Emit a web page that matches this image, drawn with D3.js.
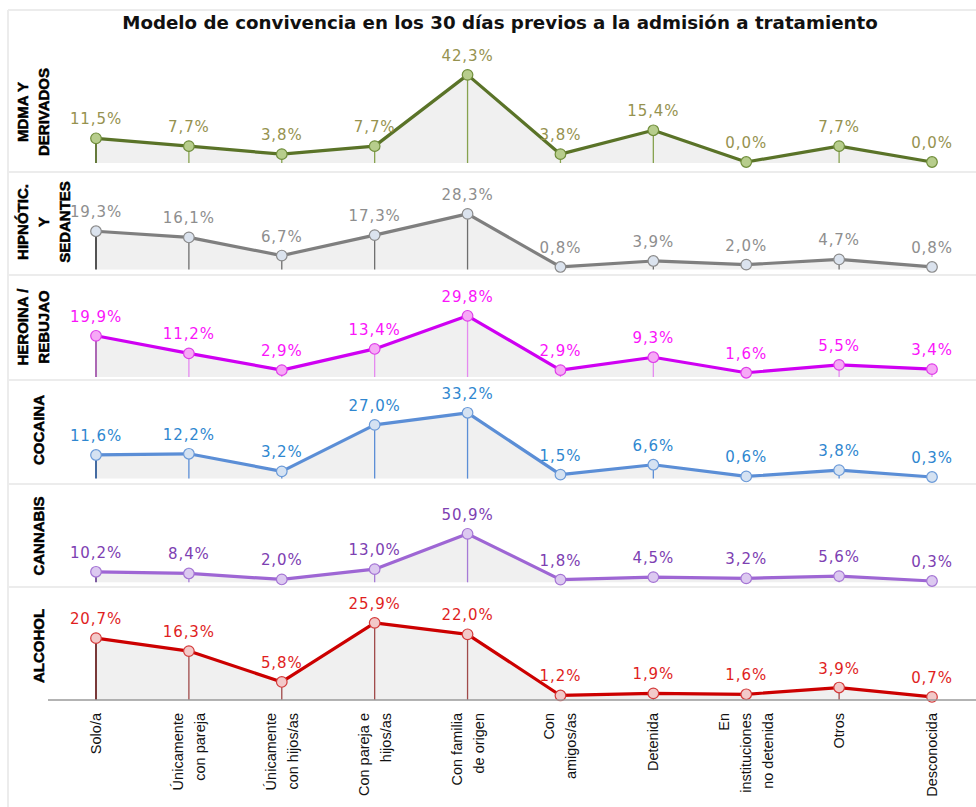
<!DOCTYPE html>
<html>
<head>
<meta charset="utf-8">
<script src="https://cdn.jsdelivr.net/npm/d3@7"></script>
<style>
html,body{margin:0;padding:0;background:#fff;}
svg{display:block;}
</style>
</head>
<body>
<svg id="chart" width="976" height="807"></svg>
<script>
// ---- DATA ----
const title = "Modelo de convivencia en los 30 días previos a la admisión a tratamiento";
const categories = ["Solo/a","Únicamente con pareja","Únicamente con hijos/as","Con pareja e hijos/as","Con familia de origen","Con amigos/as","Detenida","En instituciones no detenida","Otros","Desconocida"];
const categoryLines = [["Solo/a"],["Únicamente","con pareja"],["Únicamente","con hijos/as"],["Con pareja e","hijos/as"],["Con familia","de origen"],["Con","amigos/as"],["Detenida"],["En","instituciones","no detenida"],["Otros"],["Desconocida"]];
const seriesNames = [["MDMA Y","DERIVADOS"],["HIPNÓTIC.","Y","SEDANTES"],["HEROINA /","REBUJAO"],["COCAINA"],["CANNABIS"],["ALCOHOL"]];
const mdma     = [11.5, 7.7, 3.8, 7.7, 42.3, 3.8, 15.4, 0.0, 7.7, 0.0];
const hipnotic = [19.3, 16.1, 6.7, 17.3, 28.3, 0.8, 3.9, 2.0, 4.7, 0.8];
const heroina  = [19.9, 11.2, 2.9, 13.4, 29.8, 2.9, 9.3, 1.6, 5.5, 3.4];
const cocaina  = [11.6, 12.2, 3.2, 27.0, 33.2, 1.5, 6.6, 0.6, 3.8, 0.3];
const cannabis = [10.2, 8.4, 2.0, 13.0, 50.9, 1.8, 4.5, 3.2, 5.6, 0.3];
const alcohol  = [20.7, 16.3, 5.8, 25.9, 22.0, 1.2, 1.9, 1.6, 3.9, 0.7];
const seriesValues = [mdma, hipnotic, heroina, cocaina, cannabis, alcohol];
const axisMax = [50, 50, 50, 50, 100, 30];

// ---- STYLE / LAYOUT ----
const styles = [
  {line:"#5a7328", drop:"#86a24e", mFill:"#b7cd8c", mStroke:"#6f8d3a", label:"#96924f"},
  {line:"#7f7f7f", drop:"#6e6e6e", mFill:"#dbe3ee", mStroke:"#8a8a8a", label:"#8e8e8e"},
  {line:"#cf00f2", drop:"#e58af0", mFill:"#f6a9f6", mStroke:"#de3ee8", label:"#fa14fa"},
  {line:"#5b8ed6", drop:"#5b8ed6", mFill:"#d5e2f2", mStroke:"#6b9ad8", label:"#2f87d0"},
  {line:"#9e66d4", drop:"#a67ad6", mFill:"#dcc9f0", mStroke:"#a474d4", label:"#7d40b2"},
  {line:"#cc0000", drop:"#a04a4a", mFill:"#f2c9c9", mStroke:"#d33a3a", label:"#e01e1e"}
];
const panels = [
  {top:10,  bottom:172, plotTop:59,    zero:162,   labelY:112},
  {top:172, bottom:275, plotTop:172,   zero:268.5, labelY:222},
  {top:275, bottom:380, plotTop:275,   zero:376,   labelY:327},
  {top:380, bottom:484, plotTop:380,   zero:477.6, labelY:430},
  {top:484, bottom:587, plotTop:488,   zero:581.3, labelY:536},
  {top:587, bottom:807, plotTop:610.8, zero:699,   labelY:646}
];

const svg = d3.select("#chart");
const W = 976;
const x = d3.scalePoint().domain(categories).range([96, 932]);

// panel borders
panels.forEach((p,i)=>{
  svg.append("line").attr("x1",8).attr("x2",W).attr("y1",p.top).attr("y2",p.top)
    .attr("stroke","#ececec").attr("stroke-width",2);
});
svg.append("line").attr("x1",8).attr("x2",8).attr("y1",10).attr("y2",807)
  .attr("stroke","#ececec").attr("stroke-width",2);

// title
const t = svg.append("text").attr("x",500).attr("y",29).attr("text-anchor","middle")
  .attr("font-family","DejaVu Sans, Verdana, sans-serif").attr("font-weight","bold")
  .attr("font-size",15).attr("fill","#111").text(title);
const tw = t.node().getComputedTextLength();
t.attr("font-size", 15*756/tw);

seriesValues.forEach((vals,i)=>{
  const p = panels[i], s = styles[i];
  const y = d3.scaleLinear().domain([0, axisMax[i]]).range([p.zero, p.plotTop]);
  const g = svg.append("g");
  const pts = vals.map((v,j)=>({c:categories[j], v}));

  // area fill
  g.append("path").datum(pts)
    .attr("d", d3.area().x(d=>x(d.c)).y0(y(0)+1).y1(d=>y(d.v)))
    .attr("fill","#f0f0f0");

  // drop lines
  g.selectAll("line.drop").data(pts).join("line")
    .attr("x1",d=>x(d.c)).attr("x2",d=>x(d.c))
    .attr("y1",d=>y(d.v)).attr("y2",y(0)+1)
    .attr("stroke",(d,j)=> j===0 ? d3.color(s.drop).darker(0.8) : s.drop)
    .attr("stroke-width",(d,j)=> j===0 ? 2 : 1.3);

  // line
  g.append("path").datum(pts)
    .attr("d", d3.line().x(d=>x(d.c)).y(d=>y(d.v)))
    .attr("fill","none").attr("stroke",s.line).attr("stroke-width",3.2)
    .attr("stroke-linejoin","round");

  // markers
  g.selectAll("circle").data(pts).join("circle")
    .attr("cx",d=>x(d.c)).attr("cy",d=>y(d.v)).attr("r",5.3)
    .attr("fill",s.mFill).attr("stroke",s.mStroke).attr("stroke-width",1.2);

  // value labels
  g.selectAll("text.val").data(pts).join("text")
    .attr("x",d=>x(d.c)).attr("y",d=>y(d.v)-14)
    .attr("text-anchor","middle")
    .attr("font-family","DejaVu Sans, Verdana, sans-serif")
    .attr("font-size",15).attr("letter-spacing","0.9px")
    .attr("fill",s.label)
    .text(d=>d.v.toFixed(1).replace(".",",")+"%");

  // series label (rotated)
  const lines = seriesNames[i];
  lines.forEach((ln,k)=>{
    const cx = lines.length===1 ? 38 : 22 + k*21;
    svg.append("text")
      .attr("transform",`translate(${cx+5.5},${p.labelY}) rotate(-90)`)
      .attr("text-anchor","middle")
      .attr("font-family","Liberation Sans Narrow, Arial Narrow, Liberation Sans, sans-serif")
      .attr("font-weight","bold").attr("font-size",15).attr("fill","#000")
      .attr("stroke","#000").attr("stroke-width",0.5)
      .text(ln);
  });
});

// x axis line (bottom panel)
const yAx = panels[5].zero;
svg.append("line").attr("x1",48).attr("x2",W).attr("y1",yAx+1).attr("y2",yAx+1)
  .attr("stroke","#9a9a9a").attr("stroke-width",1.5);

// category labels
categories.forEach((c,j)=>{
  const lines = categoryLines[j];
  const n = lines.length;
  lines.forEach((ln,k)=>{
    const cx = x(c) + (k-(n-1)/2)*22;
    svg.append("text")
      .attr("transform",`translate(${cx+5},713) rotate(-90)`)
      .attr("text-anchor","end")
      .attr("font-family","Liberation Sans, Arial, sans-serif")
      .attr("font-size",14.5).attr("fill","#111")
      .text(ln);
  });
});
</script>
</body>
</html>
